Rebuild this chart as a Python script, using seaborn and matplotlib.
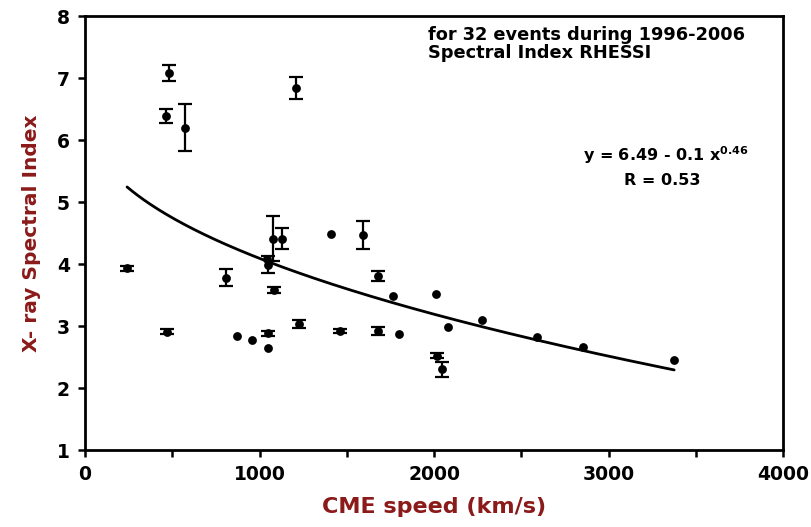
"""
Spectral index vs CME speed, with a power-law fit.
"""

import numpy as np
import pandas as pd
import matplotlib
matplotlib.use("Agg")
import matplotlib.pyplot as plt
import seaborn as sns

# ── Data ──────────────────────────────────────────────────────────────────────
cme_speed = [481, 464, 575, 1209, 241, 470, 808, 1075, 1127, 1041, 1050,
             1410, 1591, 1083, 1681, 1763, 2011, 2277, 2081, 869, 955,
             1047, 1047, 1228, 1461, 1681, 1801, 2015, 2047, 2588, 2852, 3375]
spectral_index = [7.08, 6.39, 6.20, 6.84, 3.93, 2.91, 3.78, 4.41, 4.41, 4.08, 3.99,
                  4.48, 4.47, 3.58, 3.80, 3.49, 3.52, 3.10, 2.98, 2.84, 2.77,
                  2.88, 2.65, 3.03, 2.92, 2.92, 2.87, 2.52, 2.30, 2.83, 2.67, 2.45]
index_err = [0.13, 0.11, 0.38, 0.18, 0.04, 0.04, 0.14, 0.36, 0.17, 0.0, 0.14,
             0.0, 0.23, 0.05, 0.08, 0.0, 0.0, 0.0, 0.0, 0.0, 0.0,
             0.04, 0.0, 0.06, 0.04, 0.06, 0.0, 0.04, 0.12, 0.0, 0.0, 0.0]

# fit shown on the figure: y = a - b * x**p
FIT_A, FIT_B, FIT_P = 6.49, 0.1, 0.46
FIT_R = 0.53

LABEL_RED = "#8B1A1A"

df = pd.DataFrame({"speed": cme_speed, "index": spectral_index, "err": index_err})

# ── Style ─────────────────────────────────────────────────────────────────────
sns.set_style("ticks", {"text.color": "black", "axes.labelcolor": "black",
                        "xtick.color": "black", "ytick.color": "black",
                        "axes.edgecolor": "black"})
plt.rcParams["font.family"] = ["DejaVu Sans"]
plt.rcParams["font.weight"] = "bold"
plt.rcParams["mathtext.default"] = "bf"

fig = plt.figure(figsize=(8.11, 5.27), dpi=100)
ax = fig.add_axes([0.1048, 0.146, 0.861, 0.8236])

# error bars only where they are visible in the figure
has_err = df[df["err"] > 0]
ax.errorbar(has_err["speed"], has_err["index"], yerr=has_err["err"],
            fmt="none", ecolor="black", elinewidth=1.6, capsize=5, capthick=1.6,
            zorder=2)

sns.scatterplot(data=df, x="speed", y="index", ax=ax, color="black",
                s=40, marker="o", edgecolor="black", linewidth=0, zorder=3)

fit_x = np.linspace(df["speed"].min(), df["speed"].max(), 300)
fit_y = FIT_A - FIT_B * fit_x ** FIT_P
sns.lineplot(x=fit_x, y=fit_y, ax=ax, color="black", linewidth=2.0, zorder=1)

# ── Axes ──────────────────────────────────────────────────────────────────────
ax.set_xlim(0, 4000)
ax.set_ylim(1, 8)
ax.set_xticks(np.arange(0, 4001, 1000))
ax.set_xticks(np.arange(0, 4001, 500), minor=True)
ax.set_yticks(np.arange(1, 9, 1))
ax.tick_params(axis="both", which="major", labelsize=13.5, width=1.8, length=5,
               direction="out", pad=6, colors="black")
ax.tick_params(axis="x", which="minor", width=1.8, length=5, direction="out",
               colors="black")
for lab in ax.get_xticklabels() + ax.get_yticklabels():
    lab.set_fontweight("bold")
for sp in ax.spines.values():
    sp.set_visible(True)
    sp.set_linewidth(2.0)
    sp.set_color("black")

ax.set_xlabel("CME speed (km/s)", fontsize=16, fontweight="bold",
              color=LABEL_RED, labelpad=9)
ax.set_ylabel("X- ray Spectral Index", fontsize=14.5, fontweight="bold",
              color=LABEL_RED, labelpad=11)

# ── Annotations ───────────────────────────────────────────────────────────────
ax.text(0.491, 0.977, "for 32 events during 1996-2006\nSpectral Index RHESSI",
        transform=ax.transAxes, fontsize=12.8, fontweight="bold",
        color="black", va="top", ha="left", linespacing=1.0)
ax.text(0.951, 0.68, rf"y = {FIT_A} - {FIT_B} x$^{{{FIT_P}}}$",
        transform=ax.transAxes, fontsize=11.5, fontweight="bold",
        color="black", va="center", ha="right")
ax.text(0.827, 0.622, f"R = {FIT_R}", transform=ax.transAxes, fontsize=11.5,
        fontweight="bold", color="black", va="center", ha="center")

fig.savefig("out.png", dpi=100)
